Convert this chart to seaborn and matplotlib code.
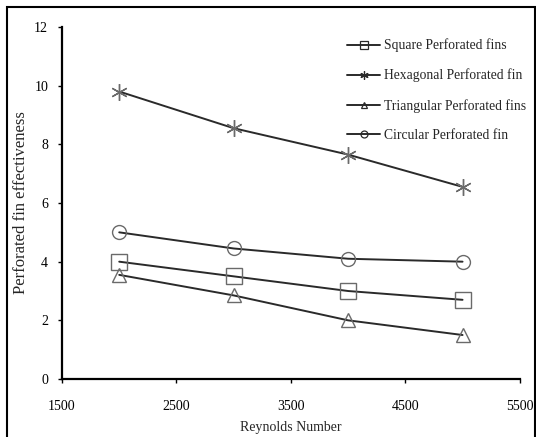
import matplotlib
matplotlib.use("Agg")
import matplotlib.pyplot as plt
import seaborn as sns
import pandas as pd
from matplotlib.lines import Line2D
from matplotlib.patches import Rectangle

reynolds = [2000, 3000, 4000, 5000]
square = [4.0, 3.5, 3.0, 2.7]
hexagonal = [9.8, 8.55, 7.65, 6.55]
triangular = [3.55, 2.85, 2.0, 1.5]
circular = [5.0, 4.45, 4.1, 4.0]
series_names = ["Square Perforated fins", "Hexagonal Perforated fin",
                "Triangular Perforated fins", "Circular Perforated fin"]
x_ticks = [1500, 2500, 3500, 4500, 5500]
y_ticks = [0, 2, 4, 6, 8, 10, 12]

sns.set_style("white")
plt.rcParams['font.family'] = ['Liberation Serif', 'DejaVu Serif']

fig = plt.figure(figsize=(5.36, 4.37), dpi=100)
ax = fig.add_axes([0.1157, 0.1327, 0.854, 0.8055])

markers = ["s", (6, 2, 0), "^", "o"]
sizes = [11, 12, 10, 10]
values = [square, hexagonal, triangular, circular]
line_color = "#2a2a2a"
marker_color = "#6a6a6a"

handles = []
for name, vals, m, ms in zip(series_names, values, markers, sizes):
    df = pd.DataFrame({"Re": reynolds, "eff": vals})
    sns.lineplot(data=df, x="Re", y="eff", ax=ax, color=line_color, lw=1.4,
                 marker=m, markersize=ms, markerfacecolor="none",
                 markeredgecolor=marker_color, markeredgewidth=1.0,
                 legend=False)
    handles.append(Line2D([], [], color=line_color, lw=1.4, marker=m,
                          markersize=ms * 0.5, markerfacecolor="none",
                          markeredgecolor=line_color, markeredgewidth=0.9,
                          label=name))

ax.set_xlim(1500, 5500)
ax.set_ylim(0, 12)
ax.set_xticks(x_ticks)
ax.set_yticks(y_ticks)
ax.tick_params(axis="both", direction="out", length=3, width=1,
               labelsize=10, colors="black", left=True, bottom=True)
ax.tick_params(axis="x", pad=12)
ax.tick_params(axis="y", pad=7)
for s in ["top", "right"]:
    ax.spines[s].set_visible(False)
for s in ["left", "bottom"]:
    ax.spines[s].set_color("black")
    ax.spines[s].set_linewidth(1.6)
ax.set_xlabel("Reynolds Number", fontsize=10, labelpad=6)
ax.set_ylabel("Perforated fin effectiveness", fontsize=12, labelpad=4)

leg = ax.legend(handles=handles, loc="upper left",
                bbox_to_anchor=(347 / 536, 1 - 38.5 / 437),
                bbox_transform=fig.transFigure,
                frameon=False, fontsize=9.8, handlelength=2.43,
                labelspacing=1.2, handletextpad=0.3,
                borderpad=0, borderaxespad=0)

fig.patches.append(Rectangle((0.013, -0.01), 0.985, 0.995,
                             transform=fig.transFigure, fill=False,
                             edgecolor="black", lw=1.5))

fig.savefig("out.png", dpi=100)
